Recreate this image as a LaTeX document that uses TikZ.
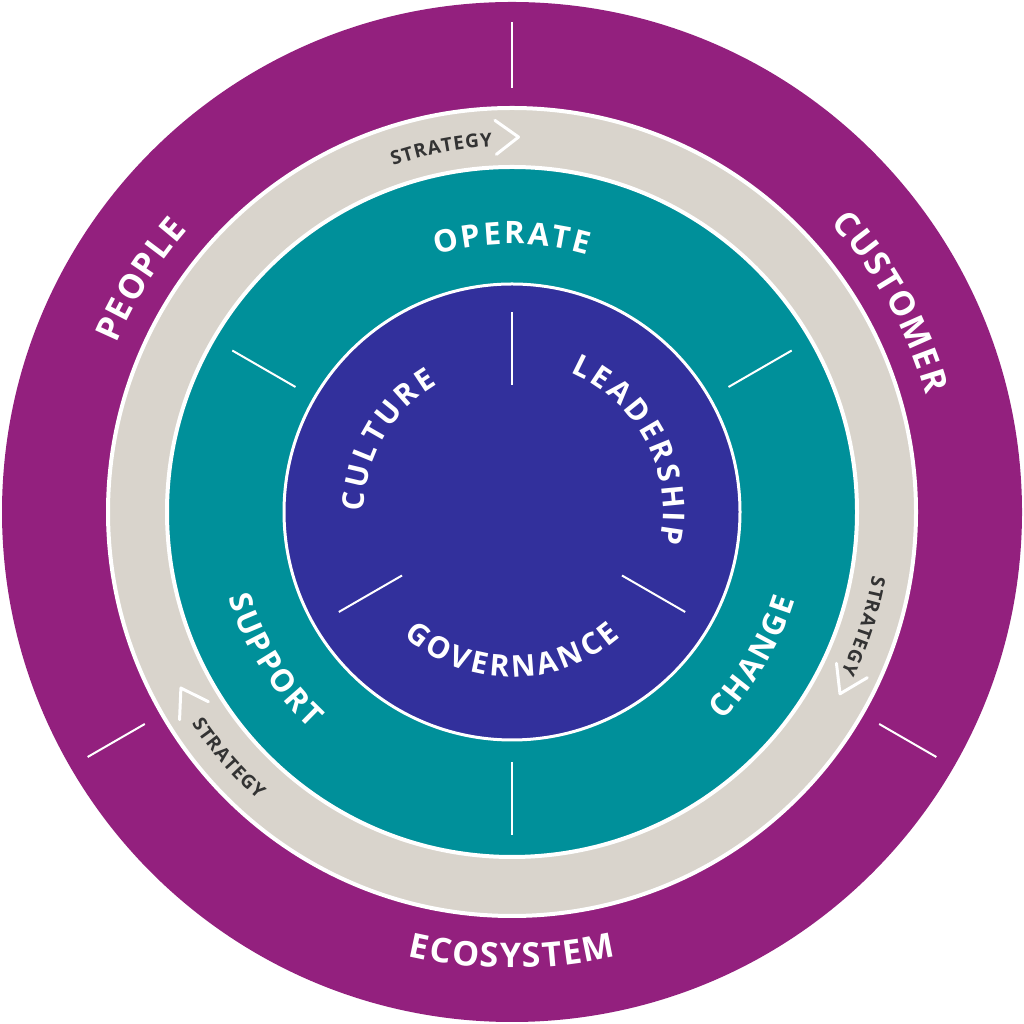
\documentclass[tikz,border=0pt]{standalone}
\usepackage{fontspec}
\setmainfont{Open Sans}
\usetikzlibrary{decorations.text}
\definecolor{cpur}{HTML}{93207E}
\definecolor{cgray}{HTML}{D9D4CC}
\definecolor{cteal}{HTML}{00909A}
\definecolor{cblue}{HTML}{32309C}
\definecolor{cdark}{HTML}{333333}
% radius, start, end, color, size, xsep, text
\newcommand\arctext[7]{\path[decorate,decoration={text effects along path,text align=center,text={#7},
  text effects/.cd, text along path, characters={text=#4,font=\bfseries\fontsize{#5}{#5}\selectfont,inner xsep=#6,inner ysep=0pt}}] (#2:#1) arc[start angle=#2,end angle=#3,radius=#1];}
\begin{document}
\begin{tikzpicture}[x=1pt,y=1pt,shift={(512,512)},
  wl/.style={white,line width=2pt},
  chev/.style={white,line width=3pt,line cap=round,line join=round}]
\useasboundingbox (-512,-512) rectangle (512,512);
\fill[cpur] (0,0) circle (510);
\fill[cgray,draw=white,line width=4pt] (0,0) circle (404);
\fill[cteal,draw=white,line width=4pt] (0,0) circle (345);
\fill[cblue,draw=white,line width=3pt] (0,0) circle (228);
% dividers
\foreach \a in {90,210,330} \draw[wl] (\a:424) -- (\a:490);
\foreach \a in {150,30,270} \draw[wl] (\a:250) -- (\a:323);
\foreach \a in {90,210,330} \draw[wl] (\a:127) -- (\a:200);
% chevrons
\draw[chev] (92.5:392) -- (89:375) -- (92.5:358);
\draw[chev] (-25:392) -- (-29:375) -- (-25:358);
\draw[chev] (212:392) -- (208:375) -- (212:358);
% outer texts
\arctext{430}{180}{116}{white}{34}{0.8pt}{PEOPLE}
\arctext{430}{66}{-8}{white}{34}{0.8pt}{CUSTOMER}
\arctext{456}{230}{310}{white}{34}{0.8pt}{ECOSYSTEM}
\arctext{366}{122}{80}{cdark}{19}{0.5pt}{STRATEGY}
\arctext{366}{4}{-40}{cdark}{19}{0.5pt}{STRATEGY}
\arctext{384}{200}{242}{cdark}{19}{0.5pt}{STRATEGY}
\arctext{268}{116}{64}{white}{31}{1.2pt}{OPERATE}
\arctext{296}{182}{242}{white}{31}{1.2pt}{SUPPORT}
\arctext{296}{-60}{-2}{white}{31}{1.2pt}{CHANGE}
\arctext{148}{205}{95}{white}{30}{1.5pt}{CULTURE}
\arctext{151}{95}{-40}{white}{30}{1.5pt}{LEADERSHIP}
\arctext{165}{200}{340}{white}{30}{1.6pt}{GOVERNANCE}
\end{tikzpicture}
\end{document}
